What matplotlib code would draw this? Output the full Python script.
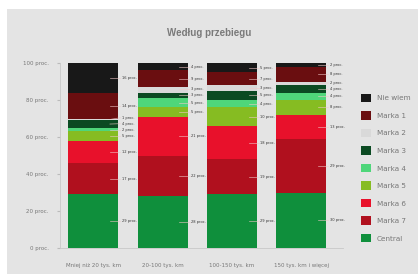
import numpy as np
import matplotlib
matplotlib.use("Agg")
import matplotlib.pyplot as plt
from matplotlib.patches import Rectangle, Patch

# Dane (proc.)
kategorie = ["Mniej niż 20 tys. km", "20-100 tys. km", "100-150 tys. km", "150 tys. km i więcej"]
serie = ["Central", "Marka 7", "Marka 6", "Marka 5", "Marka 4", "Marka 3", "Marka 2", "Marka 1", "Nie wiem"]
central = [29, 28, 29, 30]
marka7 = [17, 22, 19, 29]
marka6 = [12, 21, 18, 13]
marka5 = [5, 5, 10, 8]
marka4 = [2, 5, 4, 4]
marka3 = [4, 3, 5, 4]
marka2 = [1, 3, 3, 2]
marka1 = [14, 9, 7, 8]
nie_wiem = [16, 4, 5, 2]
wartosci = [central, marka7, marka6, marka5, marka4, marka3, marka2, marka1, nie_wiem]
kolory = ["#0f8f3c", "#b0101e", "#e8112b", "#86bc22", "#4fd67a", "#0b4a22",
          "#d9d9d9", "#6a0e10", "#181818"]
yticks = [0, 20, 40, 60, 80, 100]

fig = plt.figure(figsize=(4.18, 2.74), dpi=100)
fig.patch.set_facecolor("white")
fig.patches.append(Rectangle((7 / 418, 0), 1, 1 - 9 / 274, transform=fig.transFigure,
                             facecolor="#e4e4e4", edgecolor="none", zorder=-10))

ax = fig.add_axes([60 / 418, 26 / 274, 283 / 418, 185 / 274])
ax.set_facecolor("none")
ax.set_zorder(1)

x = np.arange(len(kategorie))
szer = 0.72
dol = np.zeros(len(kategorie))
for nazwa, vals, kol in zip(serie, wartosci, kolory):
    ax.bar(x, vals, szer, bottom=dol, color=kol, edgecolor="none", label=nazwa, zorder=2)
    dol += np.array(vals)

# podpisy segmentow z prawej strony slupkow
for i in range(len(kategorie)):
    srodki = []
    b = 0
    for vals in wartosci:
        srodki.append(b + vals[i] / 2)
        b += vals[i]
    pos = list(srodki)
    for k in range(1, len(pos)):
        if pos[k] - pos[k - 1] < 3.2:
            pos[k] = pos[k - 1] + 3.2
    if pos[-1] > 100:
        shift = pos[-1] - 100
        pos = [p - shift for p in pos]
        for k in range(len(pos) - 2, -1, -1):
            pos[k] = min(pos[k], pos[k + 1] - 3.2)
    for k, vals in enumerate(wartosci):
        xr = x[i] + szer / 2
        ax.plot([xr - 0.12, xr + 0.03], [srodki[k], pos[k]], color="#f0c8c8",
                lw=0.5, alpha=0.8, zorder=3)
        ax.text(xr + 0.05, pos[k], f"{vals[i]} proc.", fontsize=2.6, color="#333333",
                va="center", ha="left", zorder=3)

ax.set_xlim(-0.48, 3.6)
ax.set_ylim(0, 100)
ax.set_yticks(yticks)
ax.set_yticklabels([f"{t} proc." for t in yticks], fontsize=4, color="#777777")
ax.set_xticks(x)
ax.set_xticklabels(kategorie, fontsize=4, color="#777777")
ax.tick_params(axis="y", length=2, color="#bbbbbb", pad=6)
ax.tick_params(axis="x", length=0, pad=11)
for s in ["top", "right"]:
    ax.spines[s].set_visible(False)
ax.spines["left"].set_color("#c8c8c8")
ax.spines["bottom"].set_color("#c8c8c8")
ax.spines["left"].set_linewidth(0.6)
ax.spines["bottom"].set_linewidth(0.6)

fig.text(0.5, 1 - 33 / 274, "Według przebiegu", ha="center", va="center",
         fontsize=7, fontweight="bold", color="#7a7a7a", family="Liberation Sans")

uchwyty = [Patch(facecolor=kolory[k], edgecolor="none", label=serie[k])
           for k in range(len(serie) - 1, -1, -1)]
fig.legend(handles=uchwyty, loc="upper left", bbox_to_anchor=(358 / 418, 1 - 91 / 274),
           frameon=False, fontsize=5.2, handlelength=1.4, handleheight=1.4,
           labelspacing=1.27, handletextpad=0.8, borderaxespad=0, labelcolor="#777777")

fig.savefig("out.png", dpi=100)
